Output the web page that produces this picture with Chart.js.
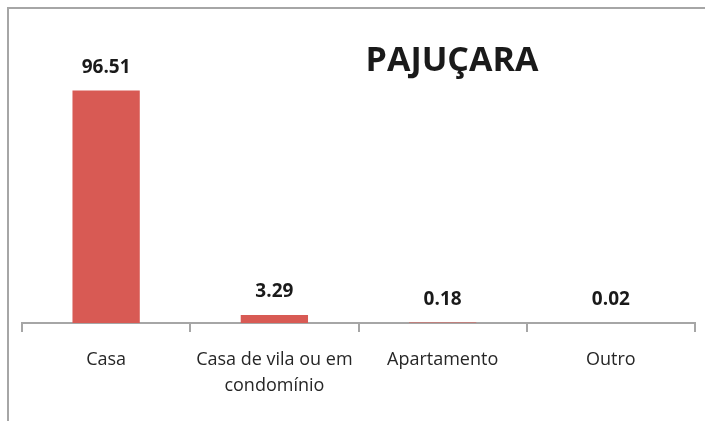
<!DOCTYPE html>
<html>
<head>
<meta charset="utf-8">
<script src="https://cdn.jsdelivr.net/npm/chart.js@4/dist/chart.umd.min.js"></script>
<style>
html,body{margin:0;padding:0;background:#fff;overflow:hidden;}
#wrap{position:relative;width:705px;height:421px;}
#frame{position:absolute;left:7px;top:7px;width:800px;height:500px;border-left:2px solid #a6a6a6;border-top:2px solid #a6a6a6;}
canvas{position:absolute;left:0;top:0;}
</style>
</head>
<body>
<div id="wrap">
<div id="frame"></div>
<canvas id="c" width="705" height="421"></canvas>
</div>
<script>
const categories = [["Casa"], ["Casa de vila ou em", "condomínio"], ["Apartamento"], ["Outro"]];
const values = [96.51, 3.29, 0.18, 0.02];
const valueLabels = ["96.51", "3.29", "0.18", "0.02"];
const chartTitle = "PAJUÇARA";

const FONT = "'Open Sans', Lato, sans-serif";

const extras = {
  id: 'extras',
  afterDatasetsDraw(chart) {
    const ctx = chart.ctx;
    ctx.save();
    ctx.fillStyle = '#1a1a1a';
    ctx.font = 'bold 19px ' + FONT;
    ctx.textAlign = 'center';
    ctx.textBaseline = 'middle';
    const meta = chart.getDatasetMeta(0);
    meta.data.forEach((bar, i) => {
      ctx.fillText(valueLabels[i], bar.x, bar.y - 23);
    });
    ctx.font = 'bold 34px ' + FONT;
    ctx.fillText(chartTitle, 452, 61);
    ctx.restore();
  }
};

new Chart(document.getElementById('c'), {
  type: 'bar',
  data: {
    labels: categories,
    datasets: [{
      data: values,
      backgroundColor: '#D85A54',
      borderWidth: 0,
      categoryPercentage: 1,
      barPercentage: 0.4
    }]
  },
  options: {
    responsive: false,
    animation: false,
    layout: { padding: { left: 22, right: 10, top: 34, bottom: 7 } },
    plugins: { legend: { display: false }, tooltip: { enabled: false }, title: { display: false } },
    scales: {
      y: { display: false, min: 0, max: 120 },
      x: {
        offset: true,
        grid: { offset: true, drawOnChartArea: false, drawTicks: true, tickLength: 9, color: '#a6a6a6', lineWidth: 2 },
        border: { display: true, color: '#a6a6a6', width: 2 },
        ticks: { color: '#262626', font: { family: FONT, size: 18, lineHeight: '26px' }, padding: 15, maxRotation: 0, autoSkip: false }
      }
    }
  },
  plugins: [extras]
});
</script>
</body>
</html>
